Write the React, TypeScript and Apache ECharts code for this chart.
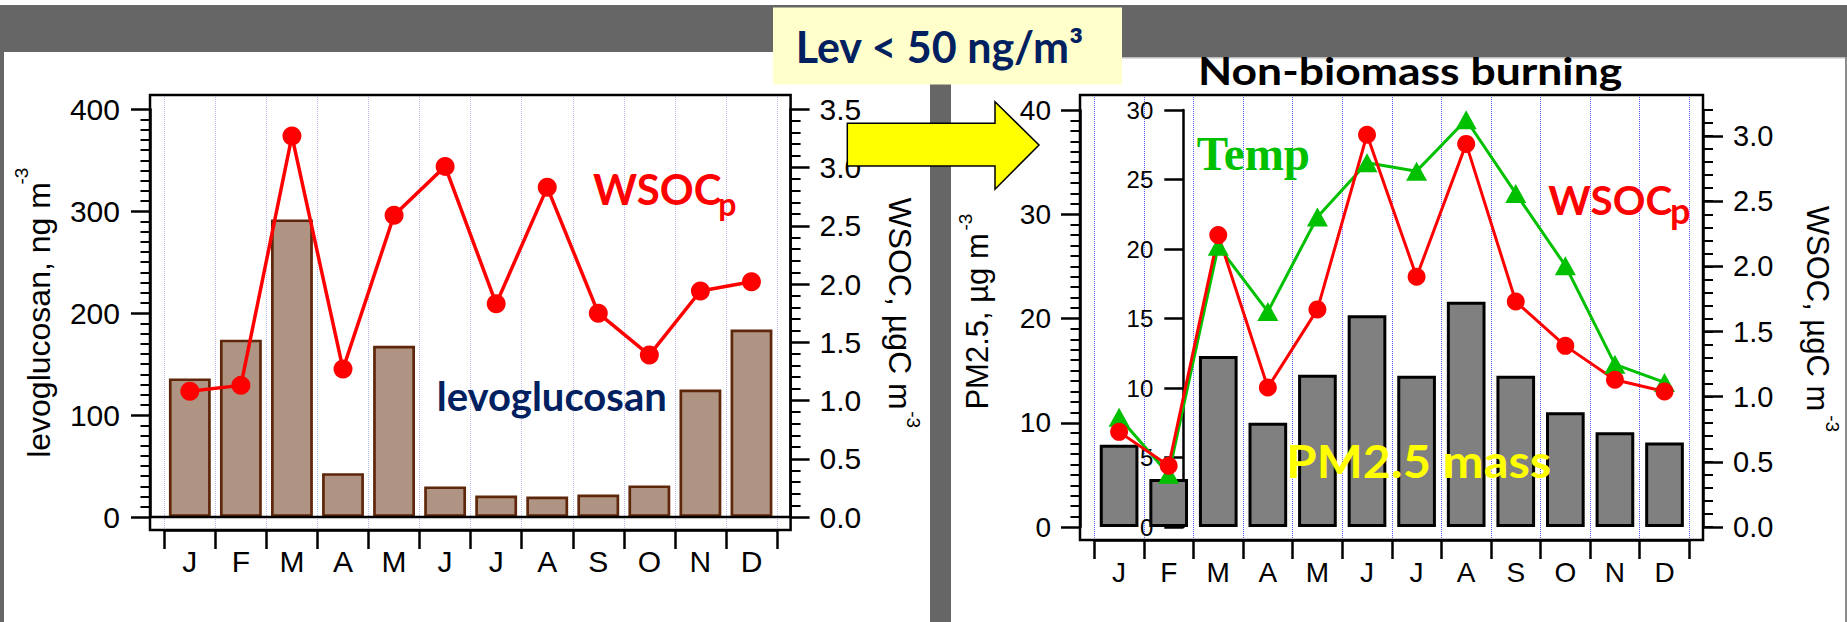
import React, { useEffect, useRef } from "react";
import * as echarts from "echarts";

// ---- data -------------------------------------------------------------
const months = ["J", "F", "M", "A", "M", "J", "J", "A", "S", "O", "N", "D"];

// all-days panel
const levoglucosan = [136, 174, 292, 43, 168, 30, 21, 20, 22, 31, 125, 184]; // ng m-3
const wsocAll = [1.08, 1.13, 3.27, 1.27, 2.59, 3.01, 1.83, 2.83, 1.75, 1.39, 1.94, 2.02]; // µgC m-3

// non-biomass-burning panel (Lev < 50 ng/m3)
const pm25 = [7.9, 4.6, 16.4, 10.0, 14.6, 20.3, 14.5, 21.6, 14.5, 11.0, 9.1, 8.1]; // µg m-3
const temperature = [7.9, 3.8, 20.2, 15.5, 22.3, 26.2, 25.6, 29.3, 24.0, 18.8, 11.7, 10.4]; // °C
const wsocNonBB = [0.73, 0.47, 2.24, 1.07, 1.67, 3.01, 1.92, 2.94, 1.73, 1.39, 1.13, 1.04]; // µgC m-3

const wsocMajorTicks = [0, 0.5, 1, 1.5, 2, 2.5, 3];

// ---- layout -----------------------------------------------------------
const W = 1847;
const H = 622;

const FONT_SANS = "'Liberation Sans', Arial, sans-serif";
const FONT_UI = "Lato, 'Open Sans', sans-serif";
const FONT_SERIF = "'Liberation Serif', 'Times New Roman', serif";

// left panel: frame box and the data area inside it
const LF = { x0: 150, x1: 790.6, y0: 95, y1: 530 };
const LD = { x0: 164.3, x1: 777, top: 109.3, zero: 517 };
// right panel
const RF = { x0: 1080, x1: 1703, y0: 95, y1: 540 };
const RD = { x0: 1094.3, x1: 1689.3, top: 110, zero: 527 };
const TEMP_AXIS_X = 1183.3;

const BLACK = "#000";
const RED = "#FF0000";
const GREEN = "#00C000";
const NAVY = "#002060";

const tickStyle = { color: BLACK, width: 2.5 };
const minorStyle = { color: BLACK, width: 2 };

function text(
  content: string,
  x: number,
  y: number,
  size: number,
  color: string,
  family: string,
  scaleX = 1
) {
  return {
    type: "text",
    x,
    y,
    scaleX,
    z: 100,
    silent: true,
    style: {
      text: content,
      fontSize: size,
      fontWeight: "bold",
      fontFamily: family,
      fill: color,
      align: "left",
      verticalAlign: "middle",
    },
  };
}

function axisTitle(content: string, x: number, y: number, size: number, rotation: number) {
  return {
    type: "text",
    x,
    y,
    rotation,
    z: 100,
    silent: true,
    style: {
      text: content,
      fontSize: size,
      fontFamily: FONT_SANS,
      fill: BLACK,
      align: "center",
      verticalAlign: "middle",
    },
  };
}

function buildOption() {
  const graphics: any[] = [
    // slide background pieces
    { type: "rect", z: 0, silent: true, shape: { x: 0, y: 5, width: W, height: 47 }, style: { fill: "#666666" } },
    { type: "rect", z: 0, silent: true, shape: { x: 951, y: 5, width: W - 951, height: 52 }, style: { fill: "#666666" } },
    { type: "rect", z: 0, silent: true, shape: { x: 951, y: 57, width: W - 951, height: 1.5 }, style: { fill: "#BBBBBB" } },
    { type: "rect", z: 0, silent: true, shape: { x: 0, y: 5, width: 4, height: H - 5 }, style: { fill: "#666666" } },
    { type: "rect", z: 0, silent: true, shape: { x: 930, y: 5, width: 21, height: H - 5 }, style: { fill: "#666666" } },
    { type: "rect", z: 0, silent: true, shape: { x: 1845, y: 57, width: 2, height: H - 57 }, style: { fill: "#8A8A8A" } },

    // plot frames
    {
      type: "rect", z: 50, silent: true,
      shape: { x: LF.x0, y: LF.y0, width: LF.x1 - LF.x0, height: LF.y1 - LF.y0 },
      style: { fill: "none", stroke: BLACK, lineWidth: 2.5 },
    },
    {
      type: "line", z: 50, silent: true,
      shape: { x1: LF.x0, y1: LD.zero, x2: LF.x1, y2: LD.zero },
      style: { stroke: BLACK, lineWidth: 2.5 },
    },
    {
      type: "rect", z: 50, silent: true,
      shape: { x: RF.x0, y: RF.y0, width: RF.x1 - RF.x0, height: RF.y1 - RF.y0 },
      style: { fill: "none", stroke: BLACK, lineWidth: 2.5 },
    },

    // threshold box and arrow
    { type: "rect", z: 100, silent: true, shape: { x: 773, y: 7.5, width: 349, height: 77 }, style: { fill: "#FFFFCC" } },
    text("Lev < 50 ng/m³", 795.7, 46.1, 43, NAVY, FONT_UI),
    {
      type: "polygon", z: 100, silent: true,
      shape: {
        points: [
          [847.3, 123.3], [995, 123.3], [995, 101.7], [1039, 145],
          [995, 189.3], [995, 166], [847.3, 166],
        ],
      },
      style: { fill: "#FFFF00", stroke: BLACK, lineWidth: 1.5 },
    },

    // panel annotations
    text("Non-biomass burning", 1198, 70.3, 38, BLACK, FONT_UI, 1.17),
    text("WSOC", 593, 188.7, 42, RED, FONT_UI),
    text("p", 718.3, 203.1, 32, RED, FONT_UI),
    text("levoglucosan", 436.7, 396.2, 40, NAVY, FONT_UI),
    text("WSOC", 1548.3, 199.3, 40.5, RED, FONT_UI),
    text("p", 1670, 209.5, 36, RED, FONT_UI),
    text("PM2.5 mass", 1286.6, 460.5, 46, "#FFFF00", FONT_UI, 1.06),
    text("Temp", 1196.7, 153.8, 48, GREEN, FONT_SERIF, 0.98),

    // axis titles
    axisTitle("levoglucosan, ng m", 39.4, 320, 32, Math.PI / 2),
    axisTitle("-3", 21.6, 176, 19, Math.PI / 2),
    axisTitle("WSOC, µgC m", 900, 303.5, 32, -Math.PI / 2),
    axisTitle("-3", 913.4, 419.6, 19, -Math.PI / 2),
    axisTitle("PM2.5, µg m", 977.7, 321.4, 31, Math.PI / 2),
    axisTitle("-3", 965.8, 222, 19, Math.PI / 2),
    axisTitle("WSOC, µgC m", 1817.4, 308.5, 31, -Math.PI / 2),
    axisTitle("-3", 1832, 423.6, 19, -Math.PI / 2),
  ];

  const catFrameAxis = (gridIndex: number, fontSize: number, margin: number, gridColor: string) => ({
    gridIndex,
    type: "category",
    data: months,
    boundaryGap: true,
    axisLine: { show: true, lineStyle: { color: BLACK, width: 2.5 } },
    axisTick: { show: true, interval: 0, length: 19, lineStyle: tickStyle },
    axisLabel: { interval: 0, fontSize, color: BLACK, margin, fontFamily: FONT_SANS },
    splitLine: { show: true, interval: 0, lineStyle: { type: "dotted", color: gridColor, width: 1 } },
  });

  const valueAxis = (o: any) => ({
    type: "value",
    splitLine: { show: false },
    axisLine: { show: true, lineStyle: { color: BLACK, width: 2.5 } },
    axisTick: { show: true, length: 19, lineStyle: tickStyle },
    axisLabel: { color: BLACK, fontFamily: FONT_SANS, fontSize: 30, margin: 30 },
    ...o,
  });

  return {
    animation: false,
    backgroundColor: "#FFFFFF",
    graphic: graphics,
    grid: [
      { left: LD.x0, width: LD.x1 - LD.x0, top: LF.y0, height: LF.y1 - LF.y0, outerBoundsMode: "none", containLabel: false },
      { left: LD.x0, width: LD.x1 - LD.x0, top: LD.top, height: LD.zero - LD.top, outerBoundsMode: "none", containLabel: false },
      { left: RD.x0, width: RD.x1 - RD.x0, top: RF.y0, height: RF.y1 - RF.y0, outerBoundsMode: "none", containLabel: false },
      { left: RD.x0, width: RD.x1 - RD.x0, top: RD.top, height: RD.zero - RD.top, outerBoundsMode: "none", containLabel: false },
    ],
    xAxis: [
      catFrameAxis(0, 30, 16, "#B8B8F0"),
      { gridIndex: 1, type: "category", data: months, show: false },
      catFrameAxis(2, 28, 18, "#5858FF"),
      { gridIndex: 3, type: "category", data: months, show: false },
    ],
    yAxis: [
      { gridIndex: 0, type: "value", show: false },
      valueAxis({
        gridIndex: 1, position: "left", offset: LD.x0 - LF.x0,
        min: 0, max: 400, interval: 100,
        minorTick: { show: true, splitNumber: 10, length: 9.5, lineStyle: minorStyle },
      }),
      valueAxis({
        gridIndex: 1, position: "right", offset: LF.x1 - LD.x1,
        min: 0, max: 3.5, interval: 0.5,
        minorTick: { show: true, splitNumber: 5, length: 10, lineStyle: minorStyle },
        axisLabel: { color: BLACK, fontFamily: FONT_SANS, fontSize: 30, margin: 29, formatter: (v: number) => v.toFixed(1) },
      }),
      { gridIndex: 2, type: "value", show: false },
      valueAxis({
        gridIndex: 3, position: "left", offset: RD.x0 - RF.x0,
        min: 0, max: 40, interval: 10,
        minorTick: { show: true, splitNumber: 10, length: 9.5, lineStyle: minorStyle },
        axisLabel: { color: BLACK, fontFamily: FONT_SANS, fontSize: 28, margin: 29 },
      }),
      valueAxis({
        gridIndex: 3, position: "left", offset: RD.x0 - TEMP_AXIS_X,
        min: 0, max: 30, interval: 5,
        axisLabel: { color: BLACK, fontFamily: FONT_SANS, fontSize: 24, margin: 30 },
      }),
      valueAxis({
        gridIndex: 3, position: "right", offset: RF.x1 - RD.x1,
        min: 0, max: 3.2,
        axisTick: { show: true, length: 20, lineStyle: tickStyle, customValues: wsocMajorTicks },
        axisLabel: {
          color: BLACK, fontFamily: FONT_SANS, fontSize: 29, margin: 30,
          customValues: wsocMajorTicks, formatter: (v: number) => v.toFixed(1),
        },
      }),
      {
        gridIndex: 3, type: "value", position: "right", offset: RF.x1 - RD.x1,
        min: 0, max: 3.2, interval: 0.1,
        axisLine: { show: false },
        axisTick: { show: true, length: 10, lineStyle: minorStyle },
        axisLabel: { show: false },
        splitLine: { show: false },
      },
    ],
    series: [
      {
        type: "bar", name: "levoglucosan", xAxisIndex: 1, yAxisIndex: 1,
        data: levoglucosan, barCategoryGap: "18%", silent: true,
        itemStyle: { color: "#AF9483", borderColor: "#5E260A", borderWidth: 2.7 },
      },
      {
        type: "line", name: "WSOCp", xAxisIndex: 1, yAxisIndex: 2,
        data: wsocAll, symbol: "circle", symbolSize: 19, silent: true,
        lineStyle: { color: RED, width: 3.5 }, itemStyle: { color: RED },
      },
      {
        type: "bar", name: "PM2.5 mass", xAxisIndex: 3, yAxisIndex: 4,
        data: pm25, barCategoryGap: "22%", silent: true,
        itemStyle: { color: "#808080", borderColor: BLACK, borderWidth: 3 },
      },
      {
        type: "line", name: "Temp", xAxisIndex: 3, yAxisIndex: 5,
        data: temperature, symbol: "triangle", symbolSize: [21, 19], silent: true,
        lineStyle: { color: GREEN, width: 3 }, itemStyle: { color: GREEN },
      },
      {
        type: "line", name: "WSOCp", xAxisIndex: 3, yAxisIndex: 6,
        data: wsocNonBB, symbol: "circle", symbolSize: 18, silent: true,
        lineStyle: { color: RED, width: 3 }, itemStyle: { color: RED },
      },
    ],
  };
}

export default function App() {
  const ref = useRef<HTMLDivElement>(null);
  useEffect(() => {
    if (!ref.current) return;
    const chart = echarts.init(ref.current, null, { renderer: "svg", width: W, height: H });
    chart.setOption(buildOption() as any);
    return () => chart.dispose();
  }, []);
  return (
    <div
      ref={ref}
      style={{ position: "fixed", left: 0, top: 0, width: W, height: H, background: "#FFFFFF" }}
    />
  );
}
